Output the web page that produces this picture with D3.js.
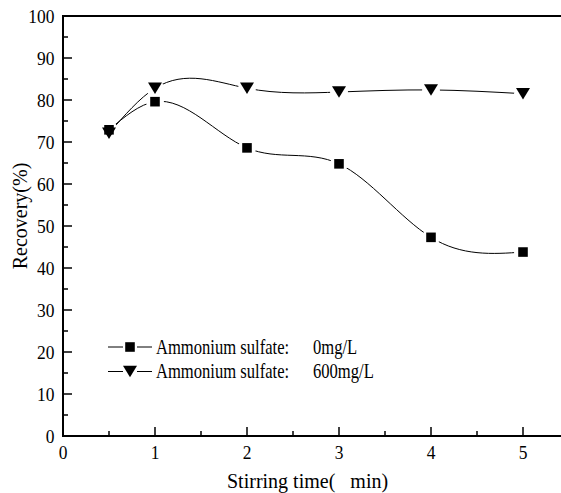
<!DOCTYPE html>
<html>
<head>
<meta charset="utf-8">
<script src="https://cdn.jsdelivr.net/npm/d3@7"></script>
<style>
  body { margin: 0; background: #fff; }
</style>
</head>
<body>
<svg id="chart"></svg>
<script>
// data
let stirTime = [0.5, 1, 2, 3, 4, 5];
let recovery0 = [72.9, 79.6, 68.6, 64.8, 47.3, 43.8];
let recovery600 = [72.1, 82.8, 82.8, 81.9, 82.4, 81.5];
let xTicks = [0, 1, 2, 3, 4, 5];
let yTicks = [0, 10, 20, 30, 40, 50, 60, 70, 80, 90, 100];
let seriesNames = ["Ammonium sulfate:", "Ammonium sulfate:"];
let seriesDoses = ["0mg/L", "600mg/L"];

let fontFam = '"Liberation Serif"';

// svg size
let widthSVG = 561;
let heightSVG = 493;

let svg = d3.select('svg#chart')
            .attr('width', widthSVG)
            .attr('height', heightSVG);

// scales (x axis runs past the right edge of the picture)
let x = d3.scaleLinear().domain([0, 5.5]).range([63, 569]);
let y = d3.scaleLinear().domain([0, 100]).range([436, 16]);

// minor ticks
let xMinor = d3.range(0.5, 5.5, 1);
let yMinor = d3.range(5, 100, 10);

// natural cubic spline in x (like Origin's spline), drawn as bezier pieces
function SplineX(context) { this._context = context; }
SplineX.prototype = {
  areaStart() { this._line = 0; },
  areaEnd() { this._line = NaN; },
  lineStart() { this._x = []; this._y = []; },
  point(px, py) { this._x.push(+px); this._y.push(+py); },
  lineEnd() {
    let xs = this._x, ys = this._y, n = xs.length, ctx = this._context;
    if (!n) return;
    ctx.moveTo(xs[0], ys[0]);
    if (n < 3) { for (let i = 1; i < n; i++) ctx.lineTo(xs[i], ys[i]); return; }
    let h = [], M = new Array(n).fill(0);
    for (let i = 0; i < n - 1; i++) h.push(xs[i + 1] - xs[i]);
    // tridiagonal solve for second derivatives, M[0] = M[n-1] = 0
    let a = [], b = [], c = [], r = [];
    for (let i = 1; i < n - 1; i++) {
      a.push(h[i - 1]); b.push(2 * (h[i - 1] + h[i])); c.push(h[i]);
      r.push(6 * ((ys[i + 1] - ys[i]) / h[i] - (ys[i] - ys[i - 1]) / h[i - 1]));
    }
    let m = b.length;
    for (let i = 1; i < m; i++) {
      let w = a[i] / b[i - 1];
      b[i] -= w * c[i - 1];
      r[i] -= w * r[i - 1];
    }
    let sol = new Array(m);
    sol[m - 1] = r[m - 1] / b[m - 1];
    for (let i = m - 2; i >= 0; i--) sol[i] = (r[i] - c[i] * sol[i + 1]) / b[i];
    for (let i = 0; i < m; i++) M[i + 1] = sol[i];
    for (let i = 0; i < n - 1; i++) {
      let s = (ys[i + 1] - ys[i]) / h[i];
      let d0 = s - h[i] * (2 * M[i] + M[i + 1]) / 6;
      let d1 = s + h[i] * (M[i] + 2 * M[i + 1]) / 6;
      ctx.bezierCurveTo(xs[i] + h[i] / 3, ys[i] + d0 * h[i] / 3,
                        xs[i + 1] - h[i] / 3, ys[i + 1] - d1 * h[i] / 3,
                        xs[i + 1], ys[i + 1]);
    }
  }
};
let curveSplineX = context => new SplineX(context);

// frame top line
svg.append('line')
   .attr('x1', x(0)).attr('x2', x(5.5))
   .attr('y1', y(100)).attr('y2', y(100))
   .style('stroke', 'black').style('stroke-width', 2);

// bottom axis, ticks point inside
let xAxis = svg.append('g').attr('transform', `translate(0, ${y(0)})`);
xAxis.append('line')
     .attr('x1', x(0)).attr('x2', x(5.5))
     .style('stroke', 'black').style('stroke-width', 2);
xAxis.selectAll('line.major').data(xTicks).enter().append('line')
     .attr('x1', d => x(d)).attr('x2', d => x(d))
     .attr('y1', 0).attr('y2', -9)
     .style('stroke', 'black').style('stroke-width', 1.5);
xAxis.selectAll('line.minor').data(xMinor).enter().append('line')
     .attr('x1', d => x(d)).attr('x2', d => x(d))
     .attr('y1', 0).attr('y2', -5)
     .style('stroke', 'black').style('stroke-width', 1.5);
xAxis.selectAll('text').data(xTicks).enter().append('text')
     .text(d => d)
     .attr('transform', d => `translate(${x(d)}, 22.5) scale(0.92, 1)`)
     .style('text-anchor', 'middle')
     .style('font-family', fontFam)
     .style('font-size', '19px');

// left axis, ticks point inside
let yAxis = svg.append('g').attr('transform', `translate(${x(0)}, 0)`);
yAxis.append('line')
     .attr('y1', y(0) + 1).attr('y2', y(100) - 1)
     .style('stroke', 'black').style('stroke-width', 2);
yAxis.selectAll('line.major').data(yTicks).enter().append('line')
     .attr('y1', d => y(d)).attr('y2', d => y(d))
     .attr('x1', 0).attr('x2', 9)
     .style('stroke', 'black').style('stroke-width', 1.5);
yAxis.selectAll('line.minor').data(yMinor).enter().append('line')
     .attr('y1', d => y(d)).attr('y2', d => y(d))
     .attr('x1', 0).attr('x2', 5)
     .style('stroke', 'black').style('stroke-width', 1.5);
yAxis.selectAll('text').data(yTicks).enter().append('text')
     .text(d => d)
     .attr('transform', d => `translate(-8.5, ${y(d) + 6.7}) scale(0.92, 1)`)
     .style('text-anchor', 'end')
     .style('font-family', fontFam)
     .style('font-size', '19px');

// axis titles
svg.append('text')
   .text('Stirring time(   min)')
   .attr('x', 227).attr('y', 488)
   .style('text-anchor', 'start')
   .style('white-space', 'pre')
   .style('font-family', fontFam)
   .style('font-size', '20px');

svg.append('text')
   .text('Recovery(%)')
   .attr('transform', 'translate(27, 216) rotate(-90)')
   .style('text-anchor', 'middle')
   .style('font-family', fontFam)
   .style('font-size', '20px');

// marker shapes
let squareSym = d3.symbol().type(d3.symbolSquare).size(92);
function triPath(s) {
  // downward triangle, s = width
  let hgt = s * 0.82;
  return `M${-s/2},${-hgt/2}L${s/2},${-hgt/2}L0,${hgt/2}Z`;
}

let line = d3.line().curve(curveSplineX)
             .x(d => x(d[0])).y(d => y(d[1]));

let series = [
  { vals: recovery0, shape: 'square' },
  { vals: recovery600, shape: 'tri' }
];

series.forEach(s => {
  let pts = stirTime.map((t, i) => [t, s.vals[i]]);
  svg.append('path')
     .datum(pts)
     .attr('d', line)
     .style('fill', 'none')
     .style('stroke', 'black')
     .style('stroke-width', 1);
});

// white gaps around markers, then markers
series.forEach(s => {
  let pts = stirTime.map((t, i) => [t, s.vals[i]]);
  svg.selectAll(null).data(pts).enter().append('circle')
     .attr('cx', d => x(d[0])).attr('cy', d => y(d[1]))
     .attr('r', 9)
     .style('fill', 'white');
});

series.forEach(s => {
  let pts = stirTime.map((t, i) => [t, s.vals[i]]);
  svg.selectAll(null).data(pts).enter().append('path')
     .attr('transform', d => `translate(${x(d[0])}, ${y(d[1])})`)
     .attr('d', s.shape == 'square' ? squareSym() : triPath(14))
     .style('fill', 'black');
});

// legend
let legend = svg.append('g').attr('transform', 'translate(108, 347)');
let legRows = legend.selectAll('g').data(series).enter().append('g')
                    .attr('transform', (d, i) => `translate(0, ${i * 24.5})`);
legRows.append('line')
       .attr('x1', 0).attr('x2', 44)
       .style('stroke', 'black').style('stroke-width', 1);
legRows.append('rect')
       .attr('x', 15).attr('y', -6).attr('width', 14).attr('height', 12)
       .style('fill', 'white');
legRows.append('path')
       .attr('transform', 'translate(22, 0)')
       .attr('d', d => d.shape == 'square' ? squareSym() : triPath(14))
       .style('fill', 'black');
legRows.append('text')
       .text((d, i) => seriesNames[i])
       .attr('transform', 'translate(48, 6.5) scale(0.83, 1)')
       .style('font-family', fontFam)
       .style('font-size', '20px');
legRows.append('text')
       .text((d, i) => seriesDoses[i])
       .attr('transform', 'translate(205, 6.5) scale(0.83, 1)')
       .style('font-family', fontFam)
       .style('font-size', '20px');
</script>
</body>
</html>
